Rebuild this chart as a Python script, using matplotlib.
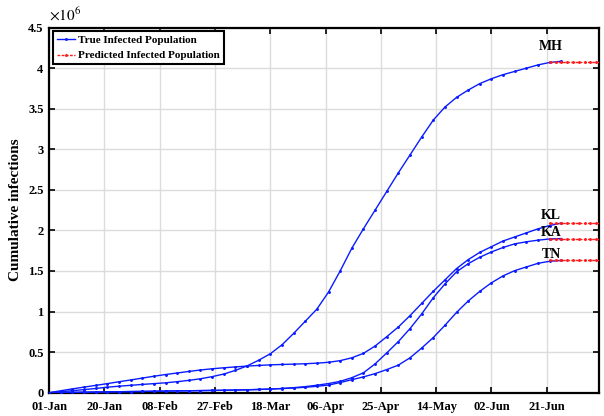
import matplotlib
matplotlib.use("Agg")
import matplotlib.pyplot as plt

# ---- data (values in millions) ----
true_days = [0, 4, 8, 12, 16, 20, 24, 28, 32, 36, 40, 44, 48, 52, 56, 60, 64, 68, 72, 76,
             80, 84, 88, 92, 96, 100, 104, 108, 112, 116, 120, 124, 128, 132, 136, 140,
             144, 148, 152, 156, 160, 164, 168, 172, 176]

mh_true = [0, 0.012, 0.025, 0.038, 0.052, 0.068, 0.080, 0.091, 0.102, 0.112, 0.122, 0.136,
           0.152, 0.172, 0.198, 0.230, 0.275, 0.33, 0.40, 0.48, 0.59, 0.73, 0.88, 1.03,
           1.24, 1.50, 1.78, 2.02, 2.25, 2.48, 2.71, 2.93, 3.15, 3.36, 3.52, 3.64, 3.73,
           3.81, 3.87, 3.92, 3.96, 4.00, 4.04, 4.07, 4.085]

kl_true = [0, 0.024, 0.047, 0.069, 0.090, 0.112, 0.135, 0.157, 0.180, 0.203, 0.224, 0.243,
           0.262, 0.280, 0.295, 0.307, 0.318, 0.328, 0.336, 0.343, 0.348, 0.352, 0.357,
           0.364, 0.375, 0.395, 0.43, 0.485, 0.575, 0.69, 0.81, 0.95, 1.10, 1.25, 1.39,
           1.53, 1.64, 1.73, 1.80, 1.87, 1.92, 1.97, 2.02, 2.06, 2.09]

ka_true = [0, 0.002, 0.004, 0.006, 0.008, 0.010, 0.012, 0.014, 0.016, 0.018, 0.020, 0.022,
           0.024, 0.026, 0.028, 0.030, 0.033, 0.036, 0.040, 0.045, 0.052, 0.062, 0.075,
           0.092, 0.113, 0.14, 0.185, 0.245, 0.355, 0.49, 0.63, 0.79, 0.97, 1.17, 1.34,
           1.49, 1.59, 1.67, 1.735, 1.79, 1.835, 1.86, 1.88, 1.895, 1.90]

tn_true = [0, 0.002, 0.004, 0.006, 0.008, 0.010, 0.012, 0.014, 0.016, 0.018, 0.020, 0.022,
           0.024, 0.026, 0.028, 0.030, 0.033, 0.036, 0.040, 0.045, 0.051, 0.058, 0.067,
           0.079, 0.094, 0.125, 0.16, 0.195, 0.235, 0.285, 0.34, 0.43, 0.55, 0.68, 0.83,
           0.99, 1.13, 1.25, 1.355, 1.44, 1.505, 1.55, 1.595, 1.62, 1.63]

pred_days = [172, 174, 176, 178, 180, 182, 184, 186, 188, 190]
mh_pred = [4.08, 4.08, 4.08, 4.08, 4.08, 4.08, 4.08, 4.08, 4.08, 4.08]
kl_pred = [2.09, 2.09, 2.09, 2.09, 2.09, 2.09, 2.09, 2.09, 2.09, 2.09]
ka_pred = [1.90, 1.90, 1.90, 1.90, 1.90, 1.90, 1.90, 1.90, 1.90, 1.90]
tn_pred = [1.63, 1.63, 1.63, 1.63, 1.63, 1.63, 1.63, 1.63, 1.63, 1.63]

state_names = ["MH", "KL", "KA", "TN"]
label_pos = [(172.5, 4.27), (172.5, 2.19), (172.5, 1.975), (172.5, 1.70)]

xtick_days = [0, 19, 38, 57, 76, 95, 114, 133, 152, 171]
xtick_labels = ["01-Jan", "20-Jan", "08-Feb", "27-Feb", "18-Mar", "06-Apr",
                "25-Apr", "14-May", "02-Jun", "21-Jun"]
ytick_vals = [0, 0.5, 1, 1.5, 2, 2.5, 3, 3.5, 4, 4.5]
ytick_labels = ["0", "0.5", "1", "1.5", "2", "2.5", "3", "3.5", "4", "4.5"]

# ---- style ----
plt.rcParams['font.family'] = ['Liberation Serif', 'DejaVu Serif']
plt.rcParams['mathtext.fontset'] = 'stix'

fig = plt.figure(figsize=(6.04, 4.16), dpi=100)
ax = fig.add_axes([0.0813, 0.056, 0.9107, 0.8777])

trues = [mh_true, kl_true, ka_true, tn_true]
preds = [mh_pred, kl_pred, ka_pred, tn_pred]
for i, t in enumerate(trues):
    ax.plot(true_days, t, color='#0a1cff', lw=1.0, marker='.', ms=2.2,
            label='True Infected Population' if i == 0 else None, zorder=3)
for i, p in enumerate(preds):
    ax.plot(pred_days, p, color='#ff1a1a', lw=1.0, ls=(0, (2, 1)), marker='.', ms=2.2,
            label='Predicted Infected Population' if i == 0 else None, zorder=4)

for name, (x, y) in zip(state_names, label_pos):
    ax.text(x, y, name, ha='center', va='center', fontsize=10, fontweight='bold')

ax.set_xlim(0, 189)
ax.set_ylim(0, 4.5)
ax.set_xticks(xtick_days)
ax.set_xticklabels(xtick_labels, fontsize=9, fontweight='bold')
ax.set_yticks(ytick_vals)
ax.set_yticklabels(ytick_labels, fontsize=9, fontweight='bold')
ax.tick_params(direction='in', length=4, width=1.2, top=True, right=True, pad=4)
ax.tick_params(axis='x', pad=6)
ax.grid(True, color='#dcdcdc', lw=1.0)
ax.set_axisbelow(True)
for s in ax.spines.values():
    s.set_linewidth(1.6)

ax.set_ylabel('Cumulative infections', fontsize=11, fontweight='bold', labelpad=4)
ax.text(0.0, 1.012, r'$\times10^{6}$', transform=ax.transAxes, fontsize=11,
        ha='left', va='bottom')

leg = ax.legend(loc='upper left', prop={'weight': 'bold', 'size': 8},
                frameon=True, fancybox=False, borderaxespad=0.35, handlelength=1.6,
                handletextpad=0.3, borderpad=0.35, labelspacing=0.5)
leg.get_frame().set_edgecolor('black')
leg.get_frame().set_linewidth(1.5)
leg.get_frame().set_alpha(1)

fig.savefig('out.png', dpi=100)
